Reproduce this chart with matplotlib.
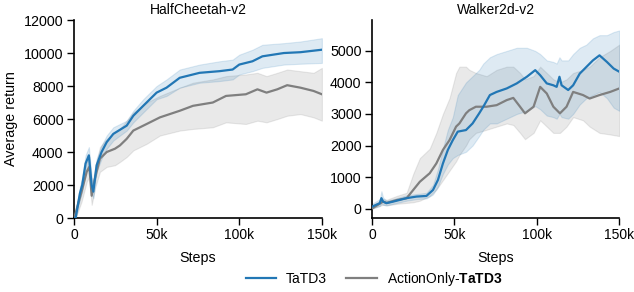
import matplotlib
matplotlib.use("Agg")
import matplotlib.pyplot as plt
from matplotlib.ticker import FuncFormatter

plt.rcParams['font.family'] = ['Liberation Sans', 'DejaVu Sans']
plt.rcParams['font.size'] = 10.3
plt.rcParams['mathtext.fontset'] = 'custom'
plt.rcParams['mathtext.rm'] = 'Liberation Sans'
plt.rcParams['mathtext.bf'] = 'Liberation Sans:bold'

BLUE = '#2277b5'
GRAY = '#7f7f7f'

# HalfCheetah-v2 (steps in thousands)
hc_steps = [0, 1, 3.6, 5, 7, 9, 10.7, 11.7, 13.7, 16.7, 19.8, 23.8, 31.9, 35.9, 41.9, 50,
            56, 64, 76, 88, 96, 100, 108, 114, 127, 137, 150]
hc_tatd3 = [0, 0, 1500, 2000, 3300, 3800, 2000, 1600, 3200, 4000, 4600, 5100, 5600, 6200,
            6800, 7600, 7900, 8500, 8800, 8900, 9000, 9300, 9500, 9800, 10000, 10050, 10200]
hc_tatd3_lo = [0, 0, 1100, 1600, 2800, 3300, 1500, 1200, 2800, 3600, 4200, 4700, 5300, 5800,
               6400, 7200, 7400, 7900, 8200, 8300, 8400, 8700, 8900, 9100, 9300, 9350, 9400]
hc_tatd3_hi = [0, 300, 1900, 2500, 3800, 4300, 2500, 2100, 3600, 4400, 5000, 5500, 5900, 6500,
               7200, 8000, 8400, 9000, 9300, 9500, 9600, 9900, 10200, 10500, 10600, 10700, 10900]

hc_ao_steps = [0, 1, 4.6, 7.7, 9.3, 10.7, 12.7, 15.7, 19.8, 24.8, 27.8, 31.9, 35.9, 44, 52,
               64, 72, 84, 92, 104, 111, 116.5, 123, 129, 137, 145, 150]
hc_ao = [0, 300, 1600, 2800, 3100, 1350, 2400, 3600, 4000, 4200, 4400, 4800, 5300, 5700, 6100,
         6500, 6800, 7000, 7400, 7500, 7800, 7600, 7800, 8050, 7900, 7700, 7500]
hc_ao_lo = [0, 0, 1000, 2200, 2500, 800, 1800, 2800, 3100, 3200, 3400, 3700, 4100, 4500, 5000,
            5300, 5400, 5500, 5800, 5700, 5900, 5800, 6000, 6200, 6300, 6100, 5900]
hc_ao_hi = [0, 600, 2200, 3400, 3700, 1900, 3000, 4300, 4800, 5200, 5400, 5900, 6400, 7000,
            7400, 7900, 8200, 8400, 8600, 8700, 8800, 8600, 8800, 9000, 8900, 8800, 9100]

# Walker2d-v2 (steps in thousands)
wk_steps = [0, 4.7, 5.7, 6.7, 8.7, 12.8, 21, 27, 33, 37, 40, 43, 46, 49, 52, 57, 61, 65, 67.5,
            71.5, 75.6, 81.7, 87.8, 93.9, 99, 102, 106, 110, 112, 113.7, 115, 119, 122, 126,
            130, 134, 138, 142.5, 146.6, 150]
wk_tatd3 = [60, 170, 330, 220, 170, 220, 330, 380, 400, 590, 910, 1430, 1860, 2170, 2440, 2490,
            2700, 3020, 3230, 3600, 3700, 3810, 3970, 4180, 4390, 4230, 3970, 3910, 3860, 4180,
            3910, 3760, 3910, 4280, 4490, 4700, 4860, 4650, 4440, 4340]
wk_tatd3_lo = [0, 80, 150, 120, 100, 150, 250, 300, 320, 450, 700, 1100, 1400, 1600, 1700, 1800,
               2000, 2300, 2500, 2700, 2700, 2850, 3000, 3100, 3250, 3150, 2950, 2900, 2850, 3000,
               2900, 2850, 3000, 3300, 3500, 3600, 3700, 3500, 3200, 3100]
wk_tatd3_hi = [150, 300, 550, 350, 250, 300, 420, 460, 500, 750, 1250, 1900, 2500, 2900, 3600,
               4000, 4200, 4400, 4600, 4800, 4900, 5000, 5100, 5100, 5000, 4900, 4700, 4650,
               4600, 4800, 4700, 4700, 4900, 5100, 5200, 5400, 5500, 5500, 5600, 5650]

wk_ao_steps = [0, 6.7, 9, 15, 21, 25, 29, 35, 39, 43, 47, 51, 53, 57, 59, 63, 69.5, 75.6, 81.7,
               85.7, 89.8, 92.8, 98, 102, 106, 110, 114, 118, 122, 128, 132, 138, 144.5, 150]
wk_ao = [0, 220, 180, 270, 330, 590, 850, 1120, 1430, 1860, 2170, 2600, 2700, 3020, 3120, 3230,
         3230, 3280, 3440, 3510, 3230, 3020, 3230, 3860, 3650, 3230, 3020, 3230, 3700, 3600,
         3490, 3600, 3700, 3810]
wk_ao_lo = [0, 120, 100, 150, 180, 200, 250, 400, 600, 900, 1200, 1500, 1700, 2000, 2200, 2400,
            2500, 2600, 2700, 2650, 2400, 2200, 2400, 2800, 2600, 2400, 2400, 2600, 2900, 2800,
            2600, 2400, 2350, 2300]
wk_ao_hi = [100, 300, 280, 400, 500, 1100, 1600, 1900, 2400, 3000, 3500, 4300, 4500, 4500, 4400,
            4300, 4200, 4400, 4500, 4500, 4300, 4100, 4200, 4500, 4300, 4100, 4000, 4100, 4300,
            4400, 4500, 4800, 5000, 5200]


def kfmt(v, pos):
    return '0' if v == 0 else '%dk' % (v / 1000)


def scale(xs):
    return [x * 1000 for x in xs]


fig = plt.figure(figsize=(6.34, 2.92), dpi=100)
ax1 = fig.add_axes([0.1167, 0.2534, 0.391, 0.678])
ax2 = fig.add_axes([0.5868, 0.2534, 0.3900, 0.678])

panels = [
    (ax1, 'HalfCheetah-v2', (hc_steps, hc_tatd3, hc_tatd3_lo, hc_tatd3_hi),
     (hc_ao_steps, hc_ao, hc_ao_lo, hc_ao_hi), (0, 12000), [0, 2000, 4000, 6000, 8000, 10000, 12000]),
    (ax2, 'Walker2d-v2', (wk_steps, wk_tatd3, wk_tatd3_lo, wk_tatd3_hi),
     (wk_ao_steps, wk_ao, wk_ao_lo, wk_ao_hi), (-300, 5980), [0, 1000, 2000, 3000, 4000, 5000]),
]

for ax, title, ta, ao, ylim, yticks in panels:
    x, m, lo, hi = ao
    ax.fill_between(scale(x), lo, hi, color=GRAY, alpha=0.17, lw=0.8)
    x, m, lo, hi = ta
    ax.fill_between(scale(x), lo, hi, color=BLUE, alpha=0.15, lw=0.8)
    ax.plot(scale(ao[0]), ao[1], color=GRAY, lw=1.6, label='ActionOnly-$\\mathbf{TaTD3}$', zorder=3)
    ax.plot(scale(ta[0]), ta[1], color=BLUE, lw=1.6, label='TaTD3', zorder=4)
    ax.set_xlim(0, 150000)
    ax.set_ylim(*ylim)
    ax.set_yticks(yticks)
    ax.set_xticks([0, 50000, 100000, 150000])
    ax.xaxis.set_major_formatter(FuncFormatter(kfmt))
    ax.set_title(title, fontsize=10, pad=4)
    ax.set_xlabel('Steps', labelpad=6)
    for s in ['top', 'right']:
        ax.spines[s].set_visible(False)
    ax.spines['left'].set_linewidth(1.2)
    ax.spines['bottom'].set_linewidth(1.2)
    ax.tick_params(direction='out', length=5, width=1.0, pad=2.5)
    ax.tick_params(axis='x', labelsize=10)

ax1.set_ylabel('Average return', labelpad=4)

h, l = ax1.get_legend_handles_labels()
fig.legend([h[1], h[0]], [l[1], l[0]], loc='center', ncol=2, frameon=False,
           bbox_to_anchor=(0.59, 0.045), handlelength=2.2, handletextpad=0.7,
           columnspacing=1.4, fontsize=10)

fig.savefig('out.png', dpi=100)
